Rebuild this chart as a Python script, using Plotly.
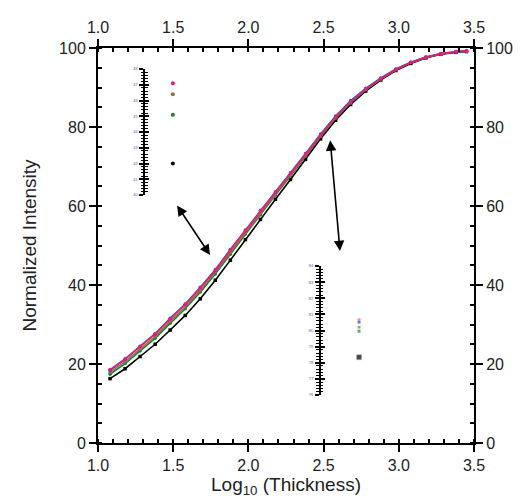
import plotly.graph_objects as go

# ---- data ----
log_thickness = [1.08, 1.18, 1.28, 1.38, 1.48, 1.58, 1.68, 1.78, 1.88, 1.98, 2.08, 2.18, 2.28,
                 2.38, 2.48, 2.58, 2.68, 2.78, 2.88, 2.98, 3.08, 3.18, 3.28, 3.38, 3.45]
pink = [18.6, 21.3, 24.4, 27.7, 31.4, 35.2, 39.3, 43.9, 48.9, 53.9, 58.8, 63.6, 68.3,
        73.2, 78.0, 82.6, 86.4, 89.6, 92.3, 94.6, 96.4, 97.7, 98.6, 99.1, 99.3]
blue = [18.4, 21.2, 24.5, 27.6, 31.6, 35.1, 39.4, 43.7, 49.0, 53.8, 58.9, 63.5, 68.4,
        73.3, 78.2, 82.8, 86.7, 89.8, 92.4, 94.7, 96.4, 97.7, 98.6, 99.1, 99.3]
olive = [17.9, 20.6, 23.8, 27.0, 30.8, 34.5, 38.7, 43.3, 48.3, 53.3, 58.2, 63.1, 67.9,
         72.9, 77.8, 82.4, 86.3, 89.5, 92.2, 94.5, 96.3, 97.6, 98.5, 99.0, 99.2]
green = [17.4, 20.1, 23.3, 26.5, 30.3, 34.0, 38.2, 42.8, 47.8, 52.9, 57.8, 62.8, 67.6,
         72.6, 77.6, 82.2, 86.1, 89.4, 92.1, 94.5, 96.3, 97.6, 98.5, 99.0, 99.2]
black = [16.3, 18.8, 21.9, 25.0, 28.6, 32.3, 36.5, 41.2, 46.3, 51.5, 56.6, 61.7, 66.7,
         71.8, 77.0, 81.7, 85.7, 89.1, 91.9, 94.3, 96.1, 97.5, 98.4, 98.9, 99.1]

# inset values (zoomed views)
inset1_vals = {"pink": 47.1, "olive": 46.4, "green": 45.1, "black": 42.0}
inset2_vals = {"pink": 80.65, "blue": 80.52, "olive": 80.2, "green": 79.96, "black": 78.35}

x_ticks = [1.0, 1.5, 2.0, 2.5, 3.0, 3.5]
y_ticks = [0, 20, 40, 60, 80, 100]

colors = {"pink": "#f0187e", "blue": "#3050d8", "olive": "#8c7a30",
          "green": "#1e7d3c", "black": "#000000"}

fig = go.Figure()
series = [("black", black), ("green", green), ("olive", olive), ("blue", blue), ("pink", pink)]
for name, vals in series:
    fig.add_trace(go.Scatter(
        x=log_thickness, y=vals, mode="lines+markers", name=name,
        line=dict(color=colors[name], width=1.6),
        marker=dict(color=colors[name], size=3.5, symbol="square" if name == "black" else "circle"),
        xaxis="x", yaxis="y", showlegend=False))

# insets
fig.add_trace(go.Scatter(
    x=[0.73] * len(inset1_vals), y=list(inset1_vals.values()), mode="markers",
    marker=dict(color=[colors[k] for k in inset1_vals], size=4),
    xaxis="x3", yaxis="y3", showlegend=False))
fig.add_trace(go.Scatter(
    x=[0.81] * len(inset2_vals), y=list(inset2_vals.values()), mode="markers",
    marker=dict(color=[colors[k] for k in inset2_vals], size=[4, 4, 4, 4, 6], symbol="square"),
    xaxis="x4", yaxis="y4", showlegend=False))

font_family = "Liberation Sans, Arial, sans-serif"
tick_font = dict(family=font_family, size=16, color="#222")
title_font = dict(family=font_family, size=19, color="#222")

axis_common = dict(showline=True, linecolor="black", linewidth=2, showgrid=False, zeroline=False,
                   ticks="outside", ticklen=7, tickwidth=2, tickcolor="black", mirror=False)
minor_x = dict(dtick=0.1, ticks="inside", ticklen=4, tickwidth=1.5, tickcolor="black")
minor_y = dict(dtick=5, ticks="inside", ticklen=4, tickwidth=1.5, tickcolor="black")

inset_tick_font = dict(family=font_family, size=4, color="#7048c0")
inset_common = dict(showline=True, linecolor="black", linewidth=2, showgrid=False, zeroline=False,
                    ticks="outside", ticklen=4, tickwidth=2, tickcolor="black", dtick=1,
                    minor=dict(dtick=0.2, ticks="outside", ticklen=2.5, tickwidth=1, tickcolor="black"),
                    tickfont=inset_tick_font, ticklabelstandoff=1)
inset_mirror = dict(showline=False, showgrid=False, zeroline=False, showticklabels=False,
                    ticks="inside", ticklen=4, tickwidth=2, tickcolor="black", dtick=1,
                    minor=dict(dtick=0.2, ticks="inside", ticklen=2.5, tickwidth=1, tickcolor="black"))

fig.update_layout(
    width=524, height=497,
    margin=dict(l=90, r=58, t=40, b=62),
    paper_bgcolor="white", plot_bgcolor="white",
    xaxis=dict(range=[1.0, 3.5], tickvals=x_ticks, ticktext=[f"{v:.1f}" for v in x_ticks],
               minor=minor_x, tickfont=tick_font, domain=[0, 1],
               title=dict(text="Log<sub>10</sub> (Thickness)", font=title_font, standoff=1),
               **axis_common),
    xaxis2=dict(range=[1.0, 3.5], tickvals=x_ticks, ticktext=[f"{v:.1f}" for v in x_ticks],
                minor=minor_x, tickfont=tick_font, overlaying="x", side="top", anchor="y",
                **axis_common),
    yaxis=dict(range=[0, 100], tickvals=y_ticks, minor=minor_y, tickfont=tick_font,
               title=dict(text="Normalized Intensity", font=title_font, standoff=17),
               **axis_common),
    yaxis2=dict(range=[0, 100], tickvals=y_ticks, minor=minor_y, tickfont=tick_font,
                overlaying="y", side="right", anchor="x", **axis_common),
    # inset 1
    xaxis3=dict(range=[0, 1], domain=[0.1263, 0.226], anchor="y3", visible=False),
    yaxis3=dict(range=[40, 48], domain=[0.6278, 0.9468], anchor="x3", **inset_common),
    yaxis5=dict(range=[40, 48], overlaying="y3", anchor="x3", side="left", **inset_mirror),
    # inset 2
    xaxis4=dict(range=[0, 1], domain=[0.593, 0.718], anchor="y4", visible=False),
    yaxis4=dict(range=[76, 84], domain=[0.1215, 0.4481], anchor="x4", **inset_common),
    yaxis6=dict(range=[76, 84], overlaying="y4", anchor="x4", side="left", **inset_mirror),
)

# placeholder traces so the overlay axes render
fig.add_trace(go.Scatter(x=[None], y=[None], xaxis="x2", yaxis="y2", showlegend=False))
fig.add_trace(go.Scatter(x=[None], y=[None], xaxis="x3", yaxis="y5", showlegend=False))
fig.add_trace(go.Scatter(x=[None], y=[None], xaxis="x4", yaxis="y6", showlegend=False))

# double-headed arrows
arrows = [((1.519, 60.5), (1.745, 47.6)), ((2.543, 77.0), (2.609, 48.6))]
for (x0, y0), (x1, y1) in arrows:
    fig.add_annotation(x=x1, y=y1, ax=x0, ay=y0, xref="x", yref="y", axref="x", ayref="y",
                       text="", showarrow=True, arrowhead=2, startarrowhead=2,
                       arrowside="end+start", arrowsize=1.3, startarrowsize=1.3,
                       arrowwidth=1.6, arrowcolor="black")

fig.write_html("out.html")
